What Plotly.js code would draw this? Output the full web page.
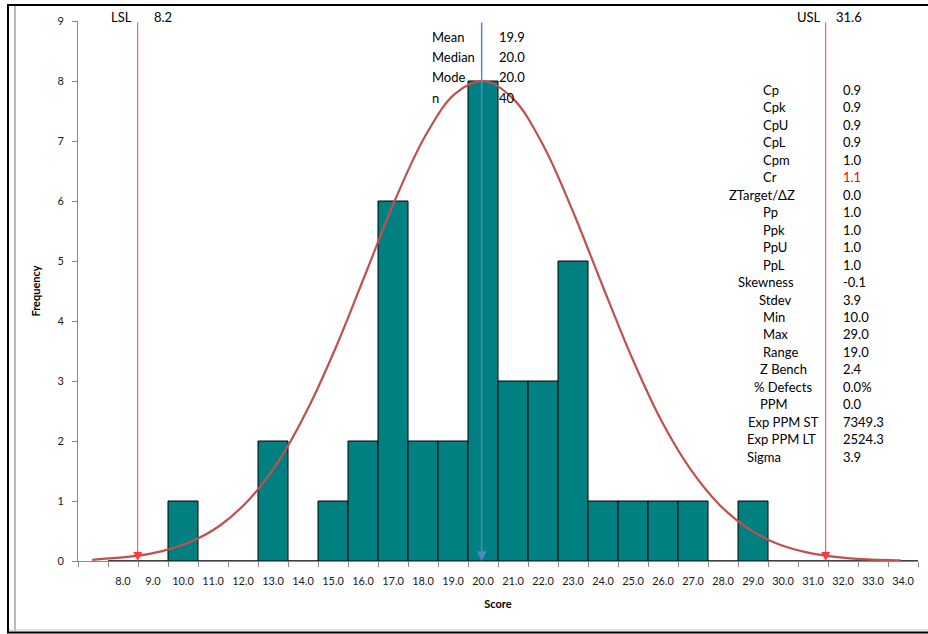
<!DOCTYPE html>
<html>
<head>
<meta charset="utf-8">
<script src="https://cdn.plot.ly/plotly-3.0.1.min.js"></script>
<style>html,body{margin:0;padding:0;background:#fff;}#chart{width:928px;height:634px;}</style>
</head>
<body>
<div id="chart"></div>
<script>
// ---- data ----
const binCenters = [8,9,10,11,12,13,14,15,16,17,18,19,20,21,22,23,24,25,26,27,28,29,30,31,32,33,34];
const binLabels = ["8.0","9.0","10.0","11.0","12.0","13.0","14.0","15.0","16.0","17.0","18.0","19.0","20.0","21.0","22.0","23.0","24.0","25.0","26.0","27.0","28.0","29.0","30.0","31.0","32.0","33.0","34.0"];
const frequency = [0,0,1,0,0,2,0,1,2,6,2,2,8,3,3,5,1,1,1,1,0,1,0,0,0,0,0];

const curveX = [6.65,7,8,9,10,11,12,13,14,15,16,17,18,19,20,21,22,23,24,25,26,27,28,29,30,31,32,33,34,34.15];
const curveY = [0.02,0.034,0.076,0.161,0.319,0.592,1.03,1.67,2.55,3.63,4.85,6.07,7.10,7.79,8.00,7.69,6.92,5.83,4.60,3.40,2.35,1.53,0.93,0.53,0.28,0.14,0.065,0.028,0.012,0.01];

const lsl = 8.2;
const usl = 31.6;
const mean = 19.9;

const summaryLabels = ["Mean","Median","Mode","n"];
const summaryValues = ["19.9","20.0","20.0","40"];

const statLabels = ["Cp","Cpk","CpU","CpL","Cpm","Cr","ZTarget/ΔZ","Pp","Ppk","PpU","PpL","Skewness","Stdev","Min","Max","Range","Z Bench","% Defects","PPM","Exp PPM ST","Exp PPM LT","Sigma"];
const statValues = ["0.9","0.9","0.9","0.9","1.0","1.1","0.0","1.0","1.0","1.0","1.0","-0.1","3.9","10.0","29.0","19.0","2.4","0.0%","0.0","7349.3","2524.3","3.9"];

// ---- layout helpers (pixel positions) ----
const M = {l:78, r:10, t:21, b:73};
const W = 928, H = 634;
const PW = W - M.l - M.r, PH = H - M.t - M.b;
const px2x = p => (p - M.l) / PW;
const py2y = p => (H - M.b - p) / PH;
const statLabelLeft = [762,762,762,762,762,762,728,762,762,762,762,737,758,762,762,762,759,753,759,747,746,746];

const FONT = "Lato, 'Liberation Sans', sans-serif";
const txt = {family: FONT, size: 13, color: "#000"};

const annotations = [];
// spec limit labels
annotations.push({xref:'paper', yref:'paper', x:px2x(134), y:py2y(17), xanchor:'right', yanchor:'middle', text:'LSL', showarrow:false, font:txt});
annotations.push({xref:'paper', yref:'paper', x:px2x(152), y:py2y(17), xanchor:'left', yanchor:'middle', text:String(lsl), showarrow:false, font:txt});
annotations.push({xref:'paper', yref:'paper', x:px2x(823), y:py2y(17), xanchor:'right', yanchor:'middle', text:'USL', showarrow:false, font:txt});
annotations.push({xref:'paper', yref:'paper', x:px2x(834), y:py2y(17), xanchor:'left', yanchor:'middle', text:String(usl), showarrow:false, font:txt});
// limit and mean lines as arrows
[[lsl,'#ff3b3b',1,1.8],[usl,'#ff3b3b',1,1.8],[mean,'#5b84c4',1.5,1.3]].forEach(([v,c,w,s]) => {
  annotations.push({xref:'x2', yref:'y', axref:'x2', ayref:'y', x:v, y:0, ax:v, ay:9, text:'', showarrow:true,
    arrowhead:2, arrowsize:s, arrowwidth:w, arrowcolor:c, standoff:0, startstandoff:0});
});
// summary block
summaryLabels.forEach((l,i) => {
  const y = py2y(37 + i*20.2);
  annotations.push({xref:'paper', yref:'paper', x:px2x(430), y:y, xanchor:'left', yanchor:'middle', text:l, showarrow:false, font:txt});
  annotations.push({xref:'paper', yref:'paper', x:px2x(497), y:y, xanchor:'left', yanchor:'middle', text:summaryValues[i], showarrow:false, font:txt});
});
// capability table
statLabels.forEach((l,i) => {
  const y = py2y(90 + i*17.46);
  annotations.push({xref:'paper', yref:'paper', x:px2x(statLabelLeft[i]-1), y:y, xanchor:'left', yanchor:'middle', text:l, showarrow:false, font:txt});
  annotations.push({xref:'paper', yref:'paper', x:px2x(841), y:y, xanchor:'left', yanchor:'middle', text:statValues[i], showarrow:false,
    font:{family:FONT, size:13, color: l === 'Cr' ? '#ff0000' : '#000'}});
});

const shapes = [
  {type:'rect', xref:'paper', yref:'paper', x0:px2x(8), x1:px2x(940), y0:py2y(632.5), y1:py2y(5), line:{color:'#000', width:2}, layer:'below'},
  {type:'line', xref:'paper', yref:'paper', x0:px2x(15), x1:px2x(15), y0:py2y(631), y1:py2y(6), line:{color:'#b8b8b8', width:2}, layer:'below'},
  {type:'line', xref:'paper', yref:'paper', x0:px2x(9), x1:px2x(940), y0:py2y(630), y1:py2y(630), line:{color:'#c8c8c8', width:1}, layer:'below'}
];

const traces = [
  {type:'bar', x:binCenters, y:frequency, width:1, marker:{color:'#008080', line:{color:'#000', width:1}}, hoverinfo:'x+y', xaxis:'x', yaxis:'y'},
  {type:'scatter', mode:'lines', x:curveX, y:curveY, line:{color:'#c0504d', width:2.2, shape:'spline', smoothing:1}, xaxis:'x2', yaxis:'y', hoverinfo:'skip'}
];

const layout = {
  width: W, height: H,
  margin: M,
  paper_bgcolor:'#fff', plot_bgcolor:'#fff',
  showlegend:false,
  bargap:0,
  font:{family:FONT, color:'#000'},
  xaxis:{
    range:[6.5,34.5], tickmode:'array', tickvals:binCenters, ticktext:binLabels,
    ticks:'', showline:true, linecolor:'#888', linewidth:1, showgrid:false, zeroline:false,
    tickfont:{family:FONT, size:11, color:'#1a1a1a'}, ticklabelstandoff:10,
    minor:{tick0:6.5, dtick:1, ticks:'outside', ticklen:5, tickcolor:'#888', tickwidth:1, showgrid:false},
    title:{text:'Score', font:{family:FONT, size:11, color:'#000', weight:'bold'}, standoff:14}, automargin:false
  },
  xaxis2:{range:[6.17,34.74], overlaying:'x', visible:false, showgrid:false, zeroline:false},
  yaxis:{
    range:[0,9], dtick:1, ticks:'outside', ticklen:5, tickcolor:'#888', showline:true, linecolor:'#888', linewidth:1,
    showgrid:false, zeroline:false, tickfont:{family:FONT, size:11, color:'#1a1a1a'}, ticklabelstandoff:6,
    title:{text:'Frequency', font:{family:FONT, size:11, color:'#000', weight:'bold'}, standoff:14}, automargin:false
  },
  annotations: annotations,
  shapes: shapes
};

Plotly.newPlot('chart', traces, layout, {displayModeBar:false, staticPlot:true});
</script>
</body>
</html>
